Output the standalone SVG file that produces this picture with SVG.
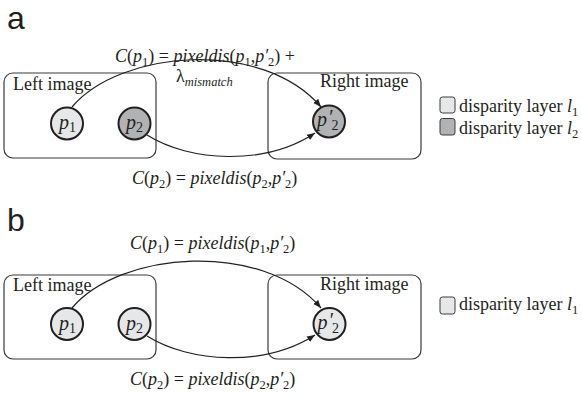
<svg xmlns="http://www.w3.org/2000/svg" width="582" height="397" viewBox="0 0 582 397">
<style>
.bg{fill:#ffffff}
.box{fill:none;stroke:#3a3a3a;stroke-width:1.2}
.node{stroke:#231f20;stroke-width:2}
.l1{fill:#e6e7e9}
.l2{fill:#b1b2b4}
.sq{stroke:#3a3a3a;stroke-width:1}
.conn{fill:none;stroke:#231f20;stroke-width:1.2}
.t{font-family:"Liberation Serif","Times New Roman",serif;font-size:18px;fill:#231f20}
.lbl{font-family:"Liberation Serif","Times New Roman",serif;font-size:20px;fill:#231f20}
.leg{font-family:"Liberation Serif","Times New Roman",serif;font-size:18px;fill:#231f20}
.i{font-style:italic}
.sb{font-size:12.5px;font-style:normal}
.sbl{font-size:14px;font-style:normal}
.panel{font-family:"Liberation Sans",Arial,sans-serif;font-size:32px;fill:#231f20}
</style>
<defs>
<marker id="ah" viewBox="0 0 10 10" refX="10" refY="5" markerWidth="8" markerHeight="8" markerUnits="userSpaceOnUse" orient="auto">
<path d="M0,1 L10,5 L0,9 Z" fill="#231f20"/>
</marker>
</defs>
<rect class="bg" x="0" y="0" width="582" height="397"/>

<!-- Panel a -->
<text class="panel" x="7" y="28.5">a</text>
<g id="a-left-image">
<rect class="box" x="4" y="73" width="152" height="85" rx="9"/>
<text class="t" x="13" y="90">Left image</text>
</g>
<g id="a-right-image">
<rect class="box" x="268" y="73" width="153" height="86" rx="9"/>
<text class="t" x="320" y="87">Right image</text>
</g>
<g id="a-p1">
<circle class="node l1" cx="67" cy="123.5" r="16"/>
<text class="lbl" x="59" y="129"><tspan class="i">p</tspan><tspan class="sbl" dy="3">1</tspan></text>
</g>
<g id="a-p2">
<circle class="node l2" cx="134.5" cy="123.5" r="16"/>
<text class="lbl" x="126" y="129"><tspan class="i">p</tspan><tspan class="sbl" dy="3">2</tspan></text>
</g>
<g id="a-p2prime">
<circle class="node l2" cx="329" cy="121.5" r="16"/>
<text class="lbl" x="317" y="126"><tspan class="i">p</tspan><tspan class="i" dx="1" dy="-2">′</tspan><tspan class="sbl" dx="-1" dy="6">2</tspan></text>
</g>
<g id="a-connectors">
<path class="conn" d="M72,107 C120,50 262,38 321,107" marker-end="url(#ah)"/>
<path class="conn" d="M147,135 C190,162 265,166 315,133" marker-end="url(#ah)"/>
</g>
<text class="t" x="115" y="62"><tspan class="i">C</tspan>(<tspan class="i">p</tspan><tspan class="sb" dy="4">1</tspan><tspan dy="-4">) = </tspan><tspan class="i">pixeldis</tspan>(<tspan class="i">p</tspan><tspan class="sb" dy="4">1</tspan><tspan dy="-4">,</tspan><tspan class="i">p′</tspan><tspan class="sb" dy="4">2</tspan><tspan dy="-4">) +</tspan></text>
<text class="t" x="176" y="82">λ<tspan class="sb" style="font-style:italic" dy="4">mismatch</tspan></text>
<text class="t" x="132" y="184"><tspan class="i">C</tspan>(<tspan class="i">p</tspan><tspan class="sb" dy="4">2</tspan><tspan dy="-4">) = </tspan><tspan class="i">pixeldis</tspan>(<tspan class="i">p</tspan><tspan class="sb" dy="4">2</tspan><tspan dy="-4">,</tspan><tspan class="i">p′</tspan><tspan class="sb" dy="4">2</tspan><tspan dy="-4">)</tspan></text>
<g id="a-legend">
<rect class="sq l1" x="440" y="97" width="15" height="16" rx="2.5"/>
<text class="leg" x="459" y="111.5">disparity layer <tspan class="i">l</tspan><tspan class="sb" dy="4">1</tspan></text>
<rect class="sq l2" x="440" y="118.5" width="15" height="16.5" rx="2.5"/>
<text class="leg" x="459" y="134">disparity layer <tspan class="i">l</tspan><tspan class="sb" dy="4">2</tspan></text>
</g>

<!-- Panel b -->
<text class="panel" x="7" y="231">b</text>
<g id="b-left-image">
<rect class="box" x="4" y="275" width="152" height="84" rx="9"/>
<text class="t" x="13" y="291">Left image</text>
</g>
<g id="b-right-image">
<rect class="box" x="268" y="275" width="153" height="84" rx="9"/>
<text class="t" x="320" y="290">Right image</text>
</g>
<g id="b-p1">
<circle class="node l1" cx="67" cy="324" r="16"/>
<text class="lbl" x="59" y="329.5"><tspan class="i">p</tspan><tspan class="sbl" dy="3">1</tspan></text>
</g>
<g id="b-p2">
<circle class="node l1" cx="134.5" cy="324" r="16"/>
<text class="lbl" x="126" y="329.5"><tspan class="i">p</tspan><tspan class="sbl" dy="3">2</tspan></text>
</g>
<g id="b-p2prime">
<circle class="node l1" cx="329.5" cy="324" r="16"/>
<text class="lbl" x="317.5" y="328.5"><tspan class="i">p</tspan><tspan class="i" dx="1" dy="-2">′</tspan><tspan class="sbl" dx="-1" dy="6">2</tspan></text>
</g>
<g id="b-connectors">
<path class="conn" d="M72,308 C120,251 262,240 321,308" marker-end="url(#ah)"/>
<path class="conn" d="M147,336 C190,363 265,367 315,335" marker-end="url(#ah)"/>
</g>
<text class="t" x="130" y="249"><tspan class="i">C</tspan>(<tspan class="i">p</tspan><tspan class="sb" dy="4">1</tspan><tspan dy="-4">) = </tspan><tspan class="i">pixeldis</tspan>(<tspan class="i">p</tspan><tspan class="sb" dy="4">1</tspan><tspan dy="-4">,</tspan><tspan class="i">p′</tspan><tspan class="sb" dy="4">2</tspan><tspan dy="-4">)</tspan></text>
<text class="t" x="130" y="385"><tspan class="i">C</tspan>(<tspan class="i">p</tspan><tspan class="sb" dy="4">2</tspan><tspan dy="-4">) = </tspan><tspan class="i">pixeldis</tspan>(<tspan class="i">p</tspan><tspan class="sb" dy="4">2</tspan><tspan dy="-4">,</tspan><tspan class="i">p′</tspan><tspan class="sb" dy="4">2</tspan><tspan dy="-4">)</tspan></text>
<g id="b-legend">
<rect class="sq l1" x="440" y="297" width="15" height="17" rx="2.5"/>
<text class="leg" x="459" y="310">disparity layer <tspan class="i">l</tspan><tspan class="sb" dy="4">1</tspan></text>
</g>
</svg>
